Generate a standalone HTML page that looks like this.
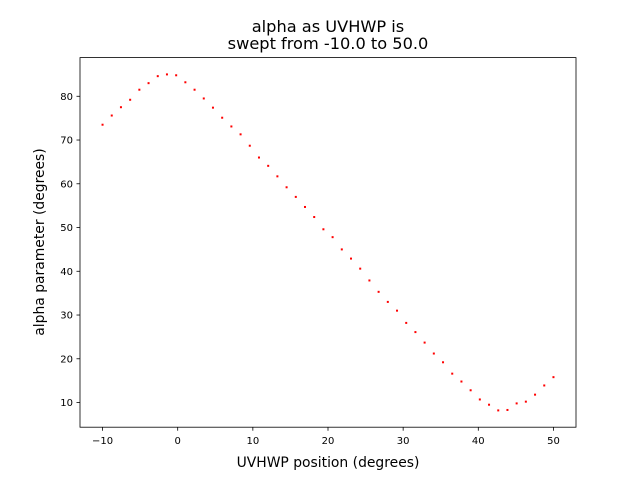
<!DOCTYPE html>
<html><head><meta charset="utf-8"><style>
body{margin:0;background:#fff}
svg text{font-family:"DejaVu Sans","Liberation Sans",sans-serif;fill:#000}
</style></head><body>
<svg id="chart" width="640" height="480" xmlns="http://www.w3.org/2000/svg">
<rect width="640" height="480" fill="#fff"/>
<text x="328" y="32" font-size="16.2" text-anchor="middle">alpha as UVHWP is</text>
<text x="328" y="49" font-size="16.2" text-anchor="middle">swept from -10.0 to 50.0</text>
<g id="marks"></g>
<g id="axes"></g>
<text x="328" y="467" font-size="13.9" text-anchor="middle">UVHWP position (degrees)</text>
<text transform="translate(44,242) rotate(-90)" font-size="13.9" text-anchor="middle">alpha parameter (degrees)</text>
</svg>
<script>
const alphaValues=[73.5,75.6,77.5,79.2,81.5,83.0,84.6,85.0,84.8,83.2,81.5,79.5,77.4,75.1,73.1,71.3,68.7,66.0,64.1,61.7,59.2,57.0,54.7,52.4,49.6,47.8,45.0,42.9,40.6,37.9,35.3,33.0,31.0,28.2,26.1,23.7,21.2,19.2,16.6,14.8,12.8,10.7,9.5,8.2,8.3,9.8,10.2,11.8,13.9,15.8];
const xStart=-10, xEnd=50;
const xTicks=[-10,0,10,20,30,40,50];
const yTicks=[10,20,30,40,50,60,70,80];

const L=80,R=576,T=57.6,B=427.2;
const n=alphaValues.length;
const positions=alphaValues.map((v,i)=>xStart+(xEnd-xStart)*i/(n-1));
const xmin=Math.min(...positions),xmax=Math.max(...positions);
const xm=(xmax-xmin)*0.05;
const ymin=Math.min(...alphaValues),ymax=Math.max(...alphaValues);
const ym=(ymax-ymin)*0.05;
const x0=xmin-xm,x1=xmax+xm,y0=ymin-ym,y1=ymax+ym;
const sx=v=>L+(v-x0)/(x1-x0)*(R-L);
const sy=v=>B-(v-y0)/(y1-y0)*(B-T);
const NS='http://www.w3.org/2000/svg';
const marks=document.getElementById('marks');
alphaValues.forEach((v,i)=>{
  const r=document.createElementNS(NS,'rect');
  r.setAttribute('x',sx(positions[i])-1);
  r.setAttribute('y',sy(v)-1);
  r.setAttribute('width',2);r.setAttribute('height',2);
  r.setAttribute('fill','#ff0000');
  
  
  marks.appendChild(r);
});
const axes=document.getElementById('axes');
const frame=document.createElementNS(NS,'rect');
frame.setAttribute('x',L);frame.setAttribute('y',T);
frame.setAttribute('width',R-L);frame.setAttribute('height',B-T);
frame.setAttribute('fill','none');frame.setAttribute('stroke','#000');frame.setAttribute('stroke-width','0.8');


axes.appendChild(frame);
xTicks.forEach(t=>{
  const X=sx(t);
  const l=document.createElementNS(NS,'line');
  l.setAttribute('x1',X);l.setAttribute('x2',X);l.setAttribute('y1',B);l.setAttribute('y2',B+3.5);
  l.setAttribute('stroke','#000');l.setAttribute('stroke-width','0.8');
  
  
  axes.appendChild(l);
  const tx=document.createElementNS(NS,'text');
  tx.setAttribute('x',X);tx.setAttribute('y',B+17);
  tx.setAttribute('font-size','10');tx.setAttribute('text-anchor','middle');
  tx.textContent=t<0?'\u2212'+Math.abs(t):String(t);
  
  
  axes.appendChild(tx);
});
yTicks.forEach(t=>{
  const Y=sy(t);
  const l=document.createElementNS(NS,'line');
  l.setAttribute('x1',L-3.5);l.setAttribute('x2',L);l.setAttribute('y1',Y);l.setAttribute('y2',Y);
  l.setAttribute('stroke','#000');l.setAttribute('stroke-width','0.8');
  
  
  axes.appendChild(l);
  const tx=document.createElementNS(NS,'text');
  tx.setAttribute('x',L-7);tx.setAttribute('y',Y+3.5);
  tx.setAttribute('font-size','10');tx.setAttribute('text-anchor','end');
  tx.textContent=String(t);
  
  
  axes.appendChild(tx);
});
</script>
</body></html>
